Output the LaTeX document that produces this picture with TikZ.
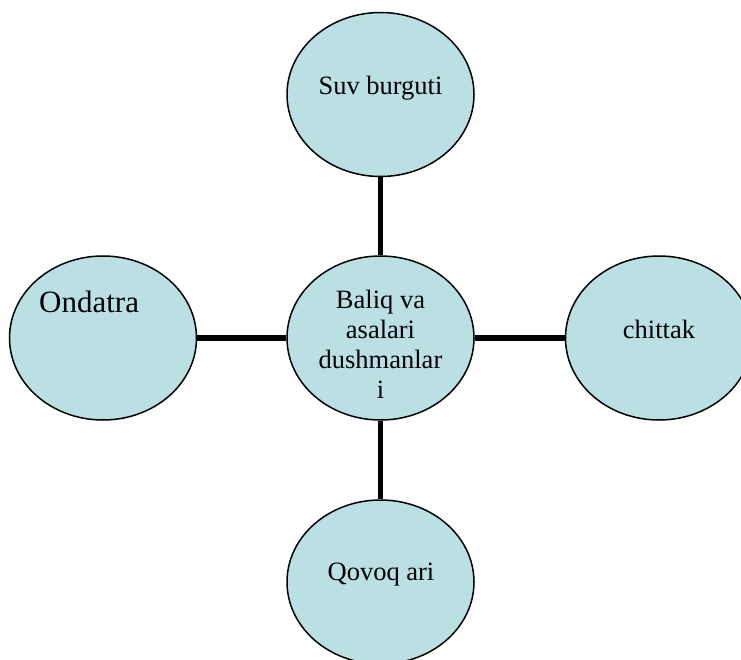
\documentclass[tikz,border=0pt]{standalone}
\usepackage{fontspec}
\setmainfont{Liberation Serif}
\usetikzlibrary{shapes.geometric}
\definecolor{bubble}{RGB}{186,224,227}
\tikzset{
  bubble/.style={ellipse, draw=black, line width=1.5pt, fill=bubble, minimum width=187pt, minimum height=164pt, inner sep=0pt},
  link/.style={line width=5.5pt, draw=black},
  lbl/.style={inner sep=0pt, font=\fontsize{26.5}{30}\selectfont, align=center},
}
\begin{document}
\begin{tikzpicture}[x=1pt,y=-1pt]
\useasboundingbox (0,0) rectangle (741,660);
\node[bubble] (top) at (380.5,94.5) {};
\node[bubble] (mid) at (380.5,338) {};
\node[bubble] (lft) at (103,338) {};
\node[bubble] (rgt) at (659,338) {};
\node[bubble] (bot) at (380.5,582) {};
\draw[link] (top.south) -- (mid.north);
\draw[link] (mid.south) -- (bot.north);
\draw[link] (lft.east) -- (mid.west);
\draw[link] (mid.east) -- (rgt.west);
\node[lbl, anchor=base] (ttop) at (380.5,95) {Suv burguti};
\node[lbl, anchor=base] (tmid) at (380.5,398) {Baliq va\\asalari\\dushmanlar\\i};
\node[lbl, anchor=base west, font=\fontsize{31}{34}\selectfont] (tlft) at (39,312) {Ondatra};
\node[lbl, anchor=base] (trgt) at (659,338) {chittak};
\node[lbl, anchor=base] (tbot) at (381,580) {Qovoq ari};
\end{tikzpicture}
\end{document}
